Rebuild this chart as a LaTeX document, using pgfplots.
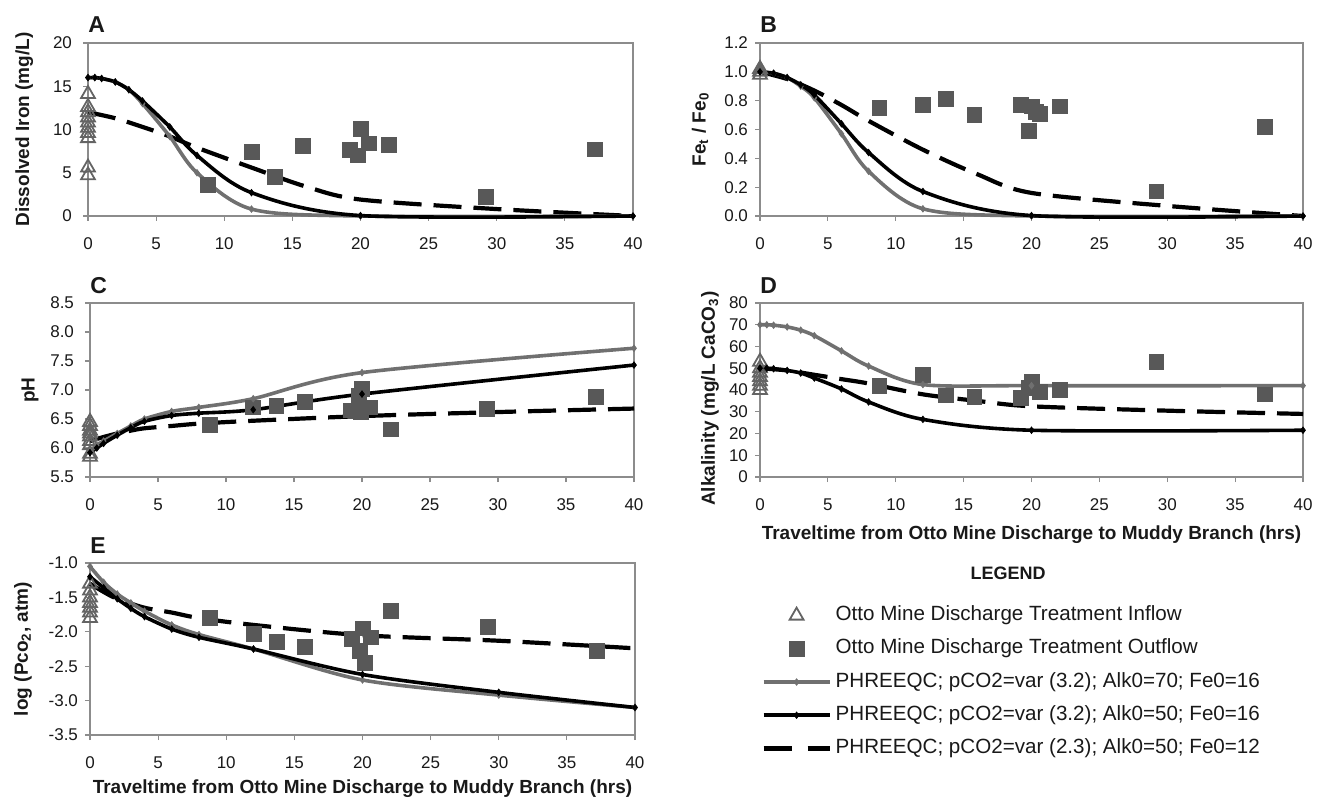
\documentclass[border=0pt]{standalone}
\usepackage{fontspec}
\setmainfont{Liberation Sans}
\usepackage{pgfplots}
\pgfplotsset{compat=1.18}

\definecolor{mgray}{RGB}{112,112,112}
\definecolor{sqgray}{RGB}{88,88,88}
\definecolor{trgray}{RGB}{100,100,100}
\definecolor{axgray}{RGB}{140,140,140}
\definecolor{txt}{RGB}{25,25,25}

\tikzset{
  graymodel/.style={mgray, line width=1.8pt, smooth, mark=diamond*, mark size=1.6pt, mark options={solid, line width=0.4pt}},
  blackmodel/.style={black, line width=1.8pt, smooth, mark=diamond*, mark size=1.6pt, mark options={solid, line width=0.4pt}},
  dashmodel/.style={black, line width=2.1pt, smooth, dash pattern=on 14pt off 6pt},
  outflow/.style={only marks, mark=square*, mark size=3.7pt, color=sqgray},
  inflow/.style={only marks, mark=triangle, mark size=4pt, color=trgray, mark options={line width=0.9pt}},
  letter/.style={font=\bfseries\fontsize{11.5}{13}\selectfont, text=txt, anchor=base west, inner sep=0pt},
}

\pgfplotsset{
  panel/.style={
    scale only axis,
    xmin=0, xmax=40, xtick={0,5,...,40},
    axis line style={axgray, line width=0.6pt},
    tick style={axgray, line width=0.6pt},
    tick align=outside, major tick length=2.5pt,
    xtick pos=bottom, ytick pos=left,
    tick label style={font=\fontsize{8.5}{10}\selectfont, text=txt},
    xticklabel style={yshift=-5pt},
    /pgf/number format/assume math mode=true,
    label style={font=\bfseries\fontsize{9.5}{11}\selectfont, text=txt},
    clip=false,
  },
  markleg/.style={legend image code/.code={\path[draw=none, fill=none] (0pt,0pt) -- (33pt,0pt); \draw[##1] plot coordinates {(16.5pt,0pt)};}},
  lineleg/.style={legend image code/.code={\draw[mark repeat=2, mark phase=2, ##1] plot coordinates {(0pt,0pt)(16.5pt,0pt)(33pt,0pt)};}},
  dashleg/.style={legend image code/.code={\draw[##1, dash pattern=on 14pt off 8pt] (0pt,0pt) -- (33pt,0pt);}},
}

\begin{document}
\begin{tikzpicture}
\useasboundingbox (0,0) rectangle (661pt,399.5pt);

% ---------------- A ----------------
\begin{axis}[panel, at={(44pt,291.5pt)}, anchor=south west, width=272.5pt, height=86.5pt,
  ymin=0, ymax=20, ytick={0,5,...,20}, yticklabel style={xshift=-2pt},
  ylabel={Dissolved Iron (mg/L)}, ylabel style={at={(axis description cs:-0.117,0.5)}, anchor=center}]
\addplot[inflow] coordinates {(0,14.1)(0,12.6)(0,12.0)(0,11.4)(0,10.8)(0,10.2)(0,9.6)(0,9.0)(0,5.6)(0,4.7)};
\addplot[outflow] coordinates {(8.8,3.6)(12,7.4)(13.7,4.5)(15.8,8.1)(19.2,7.6)(19.8,7.0)(20,10.1)(20.6,8.4)(22.1,8.2)(29.2,2.2)(37.2,7.7)};
\addplot[dashmodel] coordinates {(0,12)(2,11.3)(4,10.3)(6,9.2)(8,7.9)(12,5.6)(16,3.4)(20,1.9)(30,0.8)(40,0)};
\addplot[graymodel] coordinates {(0,16)(0.5,16)(1,15.9)(2,15.5)(3,14.6)(4,13.0)(6,9.2)(8,5.0)(12,0.8)(20,0)(40,0)};
\addplot[blackmodel] coordinates {(0,16)(0.5,16)(1,15.9)(2,15.5)(3,14.6)(4,13.3)(6,10.3)(8,7.0)(12,2.7)(20,0.05)(40,0)};
\node[letter, yshift=5pt] at (axis description cs:0,1) {A};
\end{axis}

% ---------------- B ----------------
\begin{axis}[panel, at={(380pt,291.5pt)}, anchor=south west, width=271.5pt, height=86.5pt,
  ymin=0, ymax=1.2, ytick={0,0.2,...,1.2},
  yticklabel style={/pgf/number format/.cd, fixed, fixed zerofill, precision=1},
  ylabel={Fe\textsubscript{t} / Fe\textsubscript{0}}, ylabel style={at={(axis description cs:-0.110,0.5)}, anchor=center}]
\addplot[inflow] coordinates {(0,1.0)(0,0.98)(0,1.02)};
\addplot[outflow] coordinates {(8.8,0.75)(12,0.77)(13.7,0.81)(15.8,0.70)(19.2,0.77)(19.8,0.59)(20,0.76)(20.3,0.72)(20.6,0.71)(22.1,0.76)(29.2,0.17)(37.2,0.62)};
\addplot[dashmodel] coordinates {(0,1)(2,0.95)(4,0.87)(6,0.77)(8,0.66)(12,0.46)(16,0.29)(20,0.16)(30,0.07)(40,0)};
\addplot[graymodel] coordinates {(0,1)(1,0.99)(2,0.96)(3,0.9)(4,0.82)(6,0.57)(8,0.31)(12,0.05)(20,0)(40,0)};
\addplot[blackmodel] coordinates {(0,1)(1,0.99)(2,0.96)(3,0.91)(4,0.84)(6,0.64)(8,0.44)(12,0.17)(20,0.003)(40,0)};
\node[letter, yshift=5pt] at (axis description cs:0,1) {B};
\end{axis}

% ---------------- C ----------------
\begin{axis}[panel, at={(45pt,161pt)}, anchor=south west, width=272pt, height=87pt,
  ymin=5.5, ymax=8.5, ytick={5.5,6,...,8.5},
  yticklabel style={xshift=-2pt, /pgf/number format/.cd, fixed, fixed zerofill, precision=1},
  ylabel={pH}, ylabel style={at={(axis description cs:-0.110,0.5)}, anchor=center}]
\addplot[inflow] coordinates {(0,6.45)(0,6.38)(0,6.3)(0,6.25)(0,6.2)(0,6.12)(0,6.05)(0,5.9)(0,5.85)};
\addplot[outflow] coordinates {(8.8,6.4)(12,6.7)(13.7,6.72)(15.8,6.8)(19.2,6.65)(19.8,6.9)(19.9,6.62)(20,7.02)(20.6,6.7)(22.1,6.32)(29.2,6.67)(37.2,6.88)};
\addplot[dashmodel] coordinates {(0,6.12)(1,6.19)(2,6.25)(3,6.3)(4,6.34)(6,6.38)(8,6.42)(12,6.47)(20,6.55)(30,6.62)(40,6.68)};
\addplot[graymodel] coordinates {(0,5.95)(0.5,6.05)(1,6.12)(2,6.25)(3,6.38)(4,6.5)(6,6.63)(8,6.7)(12,6.85)(20,7.3)(40,7.72)};
\addplot[blackmodel] coordinates {(0,5.92)(0.5,6.0)(1,6.08)(2,6.22)(3,6.35)(4,6.46)(6,6.56)(8,6.6)(12,6.66)(20,6.93)(40,7.43)};
\node[letter, yshift=5pt] at (axis description cs:0,1) {C};
\end{axis}

% ---------------- D ----------------
\begin{axis}[panel, at={(380pt,161pt)}, anchor=south west, width=271.5pt, height=87pt,
  ymin=0, ymax=80, ytick={0,10,...,80},
  ylabel={Alkalinity (mg/L CaCO\textsubscript{3})}, ylabel style={at={(axis description cs:-0.092,0.45)}, anchor=center},
  xlabel={Traveltime from Otto Mine Discharge to Muddy Branch (hrs)}, xlabel style={at={(axis description cs:0.5,-0.333)}, anchor=center},
  legend style={at={(axis description cs:0.002,-0.737)}, anchor=north west, draw=none, fill=none,
    font=\fontsize{10.3}{12}\selectfont, text=txt, row sep=6.6pt, column sep=0pt, inner sep=0pt,
    nodes={inner xsep=2pt, inner ysep=0pt, text height=7.5pt, text depth=2.5pt}},
  legend cell align=left]
\addplot[inflow, forget plot] coordinates {(0,53)(0,50)(0,48)(0,46)(0,44)(0,42)(0,40)};
\addplot[outflow, forget plot] coordinates {(8.8,42)(12,47)(13.7,37.5)(15.8,37)(19.2,36.5)(19.8,41)(20,44)(20.6,39)(22.1,40)(29.2,53)(37.2,38)};
\addplot[dashmodel, forget plot] coordinates {(0,50)(2,49)(4,47)(6,45)(8,43)(12,38)(16,35)(20,32.5)(30,30.5)(40,29)};
\addplot[graymodel, forget plot] coordinates {(0,70)(0.5,70)(1,69.8)(2,69)(3,67.5)(4,65)(6,58)(8,51)(12,42.5)(20,42)(40,42)};
\addplot[blackmodel, forget plot] coordinates {(0,50)(0.5,50)(1,49.8)(2,49)(3,47.8)(4,45.5)(6,40.5)(8,34.5)(12,26.5)(20,21.5)(40,21.5)};
\node[letter, yshift=5pt] at (axis description cs:0,1) {D};
\node[font=\bfseries\fontsize{9}{11}\selectfont, text=txt] at (axis description cs:0.457,-0.552) {LEGEND};
\addlegendimage{inflow, markleg}
\addlegendentry{Otto Mine Discharge Treatment Inflow}
\addlegendimage{outflow, markleg}
\addlegendentry{Otto Mine Discharge Treatment Outflow}
\addlegendimage{graymodel, lineleg}
\addlegendentry{PHREEQC; pCO2=var (3.2); Alk0=70; Fe0=16}
\addlegendimage{blackmodel, lineleg}
\addlegendentry{PHREEQC; pCO2=var (3.2); Alk0=50; Fe0=16}
\addlegendimage{dashmodel, dashleg}
\addlegendentry{PHREEQC; pCO2=var (2.3); Alk0=50; Fe0=12}
\end{axis}

% ---------------- E ----------------
\begin{axis}[panel, at={(45pt,32pt)}, anchor=south west, width=272.5pt, height=86pt,
  ymin=-3.5, ymax=-1, ytick={-3.5,-3,...,-1},
  yticklabel style={/pgf/number format/.cd, fixed, fixed zerofill, precision=1},
  ylabel={log (Pco\textsubscript{2}, atm)}, ylabel style={at={(axis description cs:-0.123,0.5)}, anchor=center},
  xlabel={Traveltime from Otto Mine Discharge to Muddy Branch (hrs)}, xlabel style={at={(axis description cs:0.5,-0.31)}, anchor=center}]
\addplot[inflow] coordinates {(0,-1.3)(0,-1.4)(0,-1.5)(0,-1.58)(0,-1.65)(0,-1.72)(0,-1.8)};
\addplot[outflow] coordinates {(8.8,-1.8)(12,-2.03)(13.7,-2.15)(15.8,-2.22)(19.2,-2.1)(19.8,-2.28)(20,-1.95)(20.2,-2.45)(20.6,-2.08)(22.1,-1.7)(29.2,-1.93)(37.2,-2.28)};
\addplot[dashmodel] coordinates {(0,-1.3)(1,-1.42)(2,-1.52)(4,-1.65)(6,-1.72)(8,-1.8)(12,-1.9)(20,-2.05)(30,-2.13)(40,-2.24)};
\addplot[graymodel] coordinates {(0,-1.05)(1,-1.28)(2,-1.45)(3,-1.58)(4,-1.7)(6,-1.9)(8,-2.04)(12,-2.25)(20,-2.7)(30,-2.92)(40,-3.1)};
\addplot[blackmodel] coordinates {(0,-1.2)(1,-1.36)(2,-1.52)(3,-1.66)(4,-1.78)(6,-1.96)(8,-2.08)(12,-2.25)(20,-2.62)(30,-2.88)(40,-3.1)};
\node[letter, yshift=5pt] at (axis description cs:0,1) {E};
\end{axis}
\end{tikzpicture}
\end{document}
